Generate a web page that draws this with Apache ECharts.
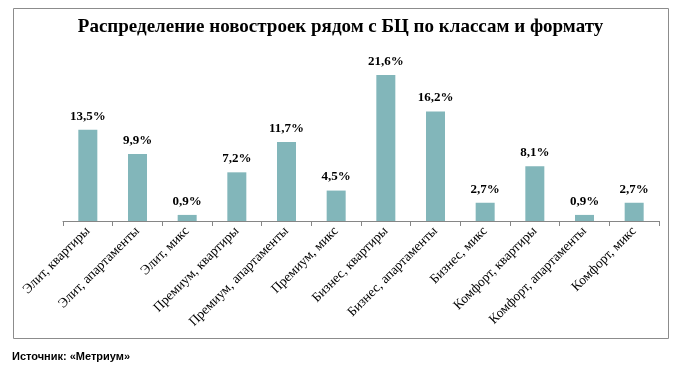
<!DOCTYPE html>
<html><head><meta charset="utf-8">
<script src="https://cdn.jsdelivr.net/npm/echarts@6/dist/echarts.min.js"></script>
<style>html,body{margin:0;padding:0;background:#fff}#c{width:681px;height:368px}</style>
</head><body><div id="c"></div>
<script>
const categories = ["Элит, квартиры","Элит, апартаменты","Элит, микс","Премиум, квартиры","Премиум, апартаменты","Премиум, микс","Бизнес, квартиры","Бизнес, апартаменты","Бизнес, микс","Комфорт, квартиры","Комфорт, апартаменты","Комфорт, микс"];
const values = [13.5, 9.9, 0.9, 7.2, 11.7, 4.5, 21.6, 16.2, 2.7, 8.1, 0.9, 2.7];
const titleText = "Распределение новостроек рядом с БЦ по классам и формату";
const sourceText = "Источник: «Метриум»";

const chart = echarts.init(document.getElementById('c'));
chart.setOption({
  animation: false,
  title: {text: titleText, left: 'center', top: 13,
    textStyle: {fontFamily: 'Liberation Serif', fontSize: 19, fontWeight: 'bold', color: '#000'}},
  graphic: [
    {type: 'rect', shape: {x: 13.5, y: 8.5, width: 655, height: 330}, style: {fill: 'none', stroke: '#8c8c8c', lineWidth: 1}, z: -1},
    {type: 'text', left: 12, top: 351, style: {text: sourceText, font: 'bold 11px "Liberation Sans"', fill: '#000'}}
  ],
  grid: {left: 63, right: 22, top: 52, bottom: 147},
  xAxis: {type: 'category', data: categories,
    axisLine: {lineStyle: {color: '#868686'}},
    axisTick: {show: true, alignWithLabel: false, length: 5, lineStyle: {color: '#868686'}},
    axisLabel: {rotate: 45, interval: 0, fontFamily: 'Liberation Serif', fontSize: 13.5, color: '#000', margin: 8}},
  yAxis: {type: 'value', min: 0, max: 25, show: false},
  series: [{type: 'bar', data: values, barWidth: 19,
    itemStyle: {color: '#82b6ba'},
    label: {show: true, position: 'top', distance: 7, formatter: p => String(p.value).replace('.', ',') + '%',
      fontFamily: 'Liberation Serif', fontSize: 13, fontWeight: 'bold', color: '#000'}}]
});
</script></body></html>
